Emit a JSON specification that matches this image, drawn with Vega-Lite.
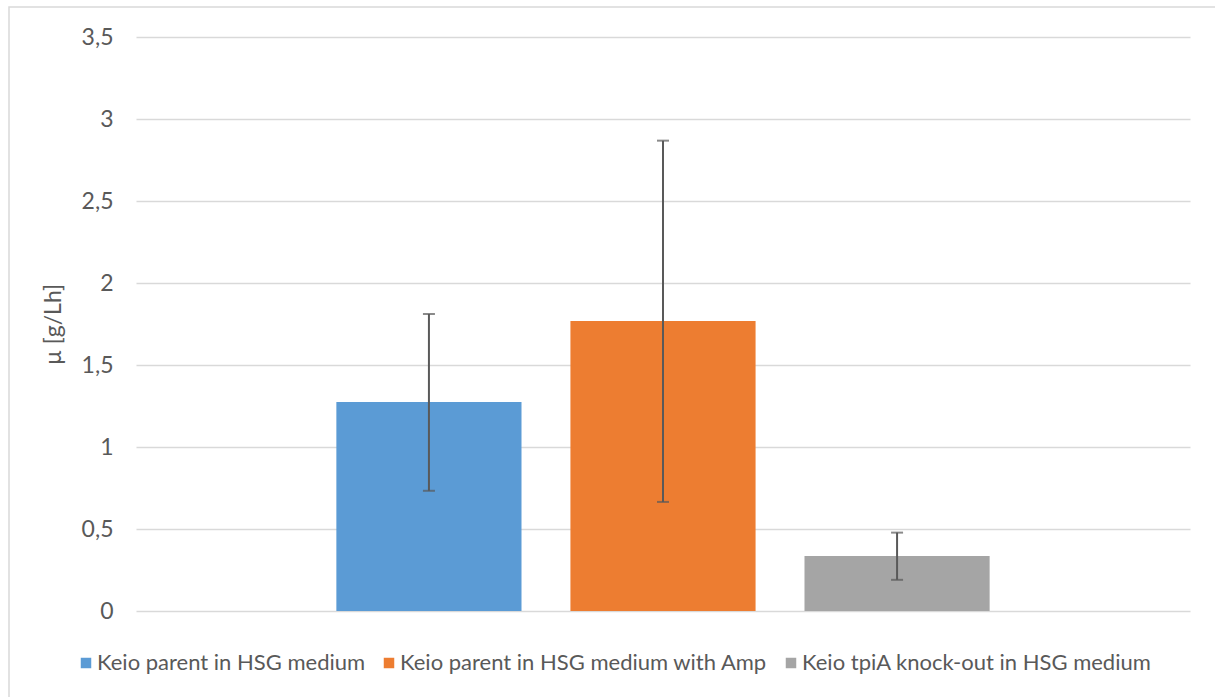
{
  "$schema": "https://vega.github.io/schema/vega-lite/v6.json",
  "width": 1208,
  "height": 692,
  "autosize": {"type": "none"},
  "padding": {"left": 9, "top": 7, "right": -2, "bottom": -2},
  "background": "white",
  "config": {
    "view": {"stroke": "#d9d9d9", "strokeWidth": 1.5},
    "font": "Lato"
  },
  "data": {
    "values": [
      {"series": "Keio parent in HSG medium", "value": 1.274, "lo": 0.733, "hi": 1.811},
      {"series": "Keio parent in HSG medium with Amp", "value": 1.768, "lo": 0.665, "hi": 2.868},
      {"series": "Keio tpiA knock-out in HSG medium", "value": 0.335, "lo": 0.19, "hi": 0.478}
    ]
  },
  "encoding": {
    "x": {
      "field": "series",
      "type": "nominal",
      "sort": null,
      "axis": null,
      "scale": {"range": [127, 1181], "paddingInner": 0.209, "paddingOuter": 0.856}
    }
  },
  "layer": [
    {
      "mark": {"type": "bar"},
      "encoding": {
        "y": {
          "field": "value",
          "type": "quantitative",
          "title": "µ [g/Lh]",
          "scale": {"domain": [0, 3.5], "range": [604, 30], "nice": false, "zero": true},
          "axis": {
            "offset": -127,
            "domain": false,
            "ticks": false,
            "tickSize": 0,
            "labelPadding": 23,
            "values": [0, 0.5, 1, 1.5, 2, 2.5, 3, 3.5],
            "labelExpr": "replace(toString(datum.value), '.', ',')",
            "labelFontSize": 23,
            "labelColor": "#595959",
            "labelFont": "Lato",
            "gridColor": "#d9d9d9",
            "gridWidth": 1.5,
            "titleFontSize": 23,
            "titleFont": "Lato",
            "titleFontWeight": "normal",
            "titleColor": "#595959",
            "titlePadding": 16
          }
        },
        "color": {
          "field": "series",
          "type": "nominal",
          "sort": null,
          "scale": {
            "domain": ["Keio parent in HSG medium", "Keio parent in HSG medium with Amp", "Keio tpiA knock-out in HSG medium"],
            "range": ["#5B9BD5", "#ED7D31", "#A5A5A5"]
          },
          "legend": {
            "orient": "none",
            "legendX": 66,
            "legendY": 645,
            "direction": "horizontal",
            "title": null,
            "symbolType": "square",
            "symbolSize": 110,
            "symbolStrokeWidth": 0,
            "labelFontSize": 22,
            "labelFont": "Lato",
            "labelColor": "#595959",
            "labelOffset": 0,
            "labelLimit": 0,
            "columnPadding": 12
          }
        }
      }
    },
    {
      "mark": {"type": "rule", "color": "#595959", "strokeWidth": 2},
      "encoding": {
        "y": {"field": "lo", "type": "quantitative", "title": "µ [g/Lh]"},
        "y2": {"field": "hi"}
      }
    },
    {
      "mark": {"type": "tick", "color": "#595959", "thickness": 2, "size": 12},
      "encoding": {
        "y": {"field": "lo", "type": "quantitative", "title": "µ [g/Lh]"}
      }
    },
    {
      "mark": {"type": "tick", "color": "#595959", "thickness": 2, "size": 12},
      "encoding": {
        "y": {"field": "hi", "type": "quantitative", "title": "µ [g/Lh]"}
      }
    }
  ]
}
